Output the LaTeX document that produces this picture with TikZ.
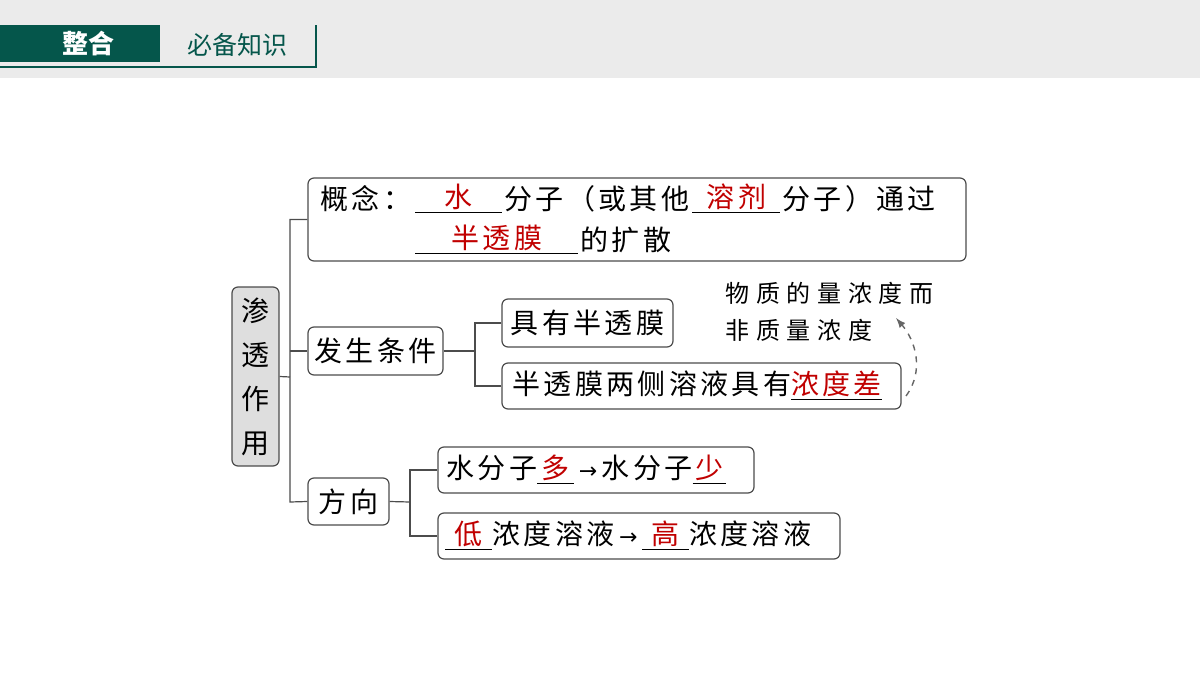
\documentclass[tikz,border=0pt]{standalone}
\usepackage{fontspec}
\setmainfont{Noto Sans CJK SC}[LetterSpace=12]
\definecolor{hdr}{HTML}{05564B}
\definecolor{rd}{HTML}{C00000}
\begin{document}
\begin{tikzpicture}[x=0.5pt,y=-0.5pt,
  box/.style={draw=black!70,rounded corners=3pt,line width=0.6pt,inner sep=0},
  txt/.style={anchor=west,inner sep=0,font=\fontsize{14}{16}\selectfont},
  ln/.style={line width=0.6pt,black!70}]
\useasboundingbox (0,0) rectangle (1200,675);
\fill[black!8] (0,0) rectangle (1200,78);
% header
\fill[hdr] (0,25) rectangle (160,62);
\node[font=\fontsize{13}{15}\selectfont\bfseries\addfontfeature{LetterSpace=0},text=white] (h1) at (88,44) {整合};
\node[font=\fontsize{12.5}{14}\selectfont\addfontfeature{LetterSpace=0},text=hdr] (h2) at (237,45) {必备知识};
\draw[hdr,line width=1pt] (0,67) -- (316,67) -- (316,25);
% root
\node[box,fill=black!13,minimum width=23.5pt,minimum height=89.5pt,align=center,font=\fontsize{14}{22}\selectfont] (root) at (255.5,376.5) {渗\\透\\作\\用};
% boxes
\node[box,minimum width=329pt,minimum height=41.5pt] (b1) at (637,219.5) {};
\node[box,minimum width=67.5pt,minimum height=24pt] (b2) at (375.5,351) {};
\node[txt,anchor=center] at (b2) {发生条件};
\node[box,minimum width=40.5pt,minimum height=23.5pt] (b3) at (348.5,501.5) {};
\node[txt,anchor=center] at (b3) {方向};
\node[box,minimum width=85.5pt,minimum height=24pt] (c1) at (587.5,323) {};
\node[txt,anchor=center] at (c1) {具有半透膜};
\node[box,minimum width=199.5pt,minimum height=23pt] (c2) at (701.5,386) {};
\node[box,minimum width=158pt,minimum height=23pt] (d1) at (596,470) {};
\node[box,minimum width=201pt,minimum height=23pt] (d2) at (639,536) {};
% connectors
\coordinate (j1) at (290,377);
\draw[ln] (root.east) -- (j1);
\draw[ln] (b1.west) -| (290,502) -- (b3.west);
\draw[ln] (290,351) -- (b2.west);
\draw[ln] (b2.east) -- (475,351);
\draw[ln] (c1.west) -| (475,386) -- (c2.west);
\draw[ln] (b3.east) -- (410,502);
\draw[ln] (d1.west) -| (410,536) -- (d2.west);
% box1 text
\node[txt] at (320,199) {概念：};
\node[txt] at (415,199) {\underline{\makebox[43.5pt]{\textcolor{rd}{水}}}};
\node[txt] at (504,199) {分子（或其他};
\node[txt] at (692,199) {\underline{\makebox[44pt]{\textcolor{rd}{溶剂}}}};
\node[txt] at (782,199) {分子）通过};
\node[txt] at (415,240) {\underline{\makebox[81.5pt]{\textcolor{rd}{半透膜}}}};
\node[txt] at (580,240) {的扩散};
% c2 text
\node[txt] at (512,386) {半透膜两侧溶液具有\underline{\textcolor{rd}{浓度差}}};
% annotation
\node[txt,align=left,font=\fontsize{12}{18.5}\selectfont\addfontfeature{LetterSpace=28}] (ann) at (725,312) {物质的量浓度而\\非质量浓度};
\draw[dashed,black!60,line width=0.7pt,-latex] (906,396) .. controls (925,370) and (915,340) .. (896,318);
% d texts
\node[txt] at (446,470) {水分子\underline{\makebox[18.5pt]{\textcolor{rd}{多}}}\,{\fontspec{DejaVu Sans}\fontsize{11}{12}\selectfont →}\,水分子\underline{\makebox[16.5pt]{\textcolor{rd}{少}}}};
\node[txt] at (445,536) {\underline{\makebox[23.5pt]{\textcolor{rd}{低}}}浓度溶液\,{\fontspec{DejaVu Sans}\fontsize{11}{12}\selectfont →}\,\underline{\makebox[23.5pt]{\textcolor{rd}{高}}}浓度溶液};
\end{tikzpicture}
\end{document}
